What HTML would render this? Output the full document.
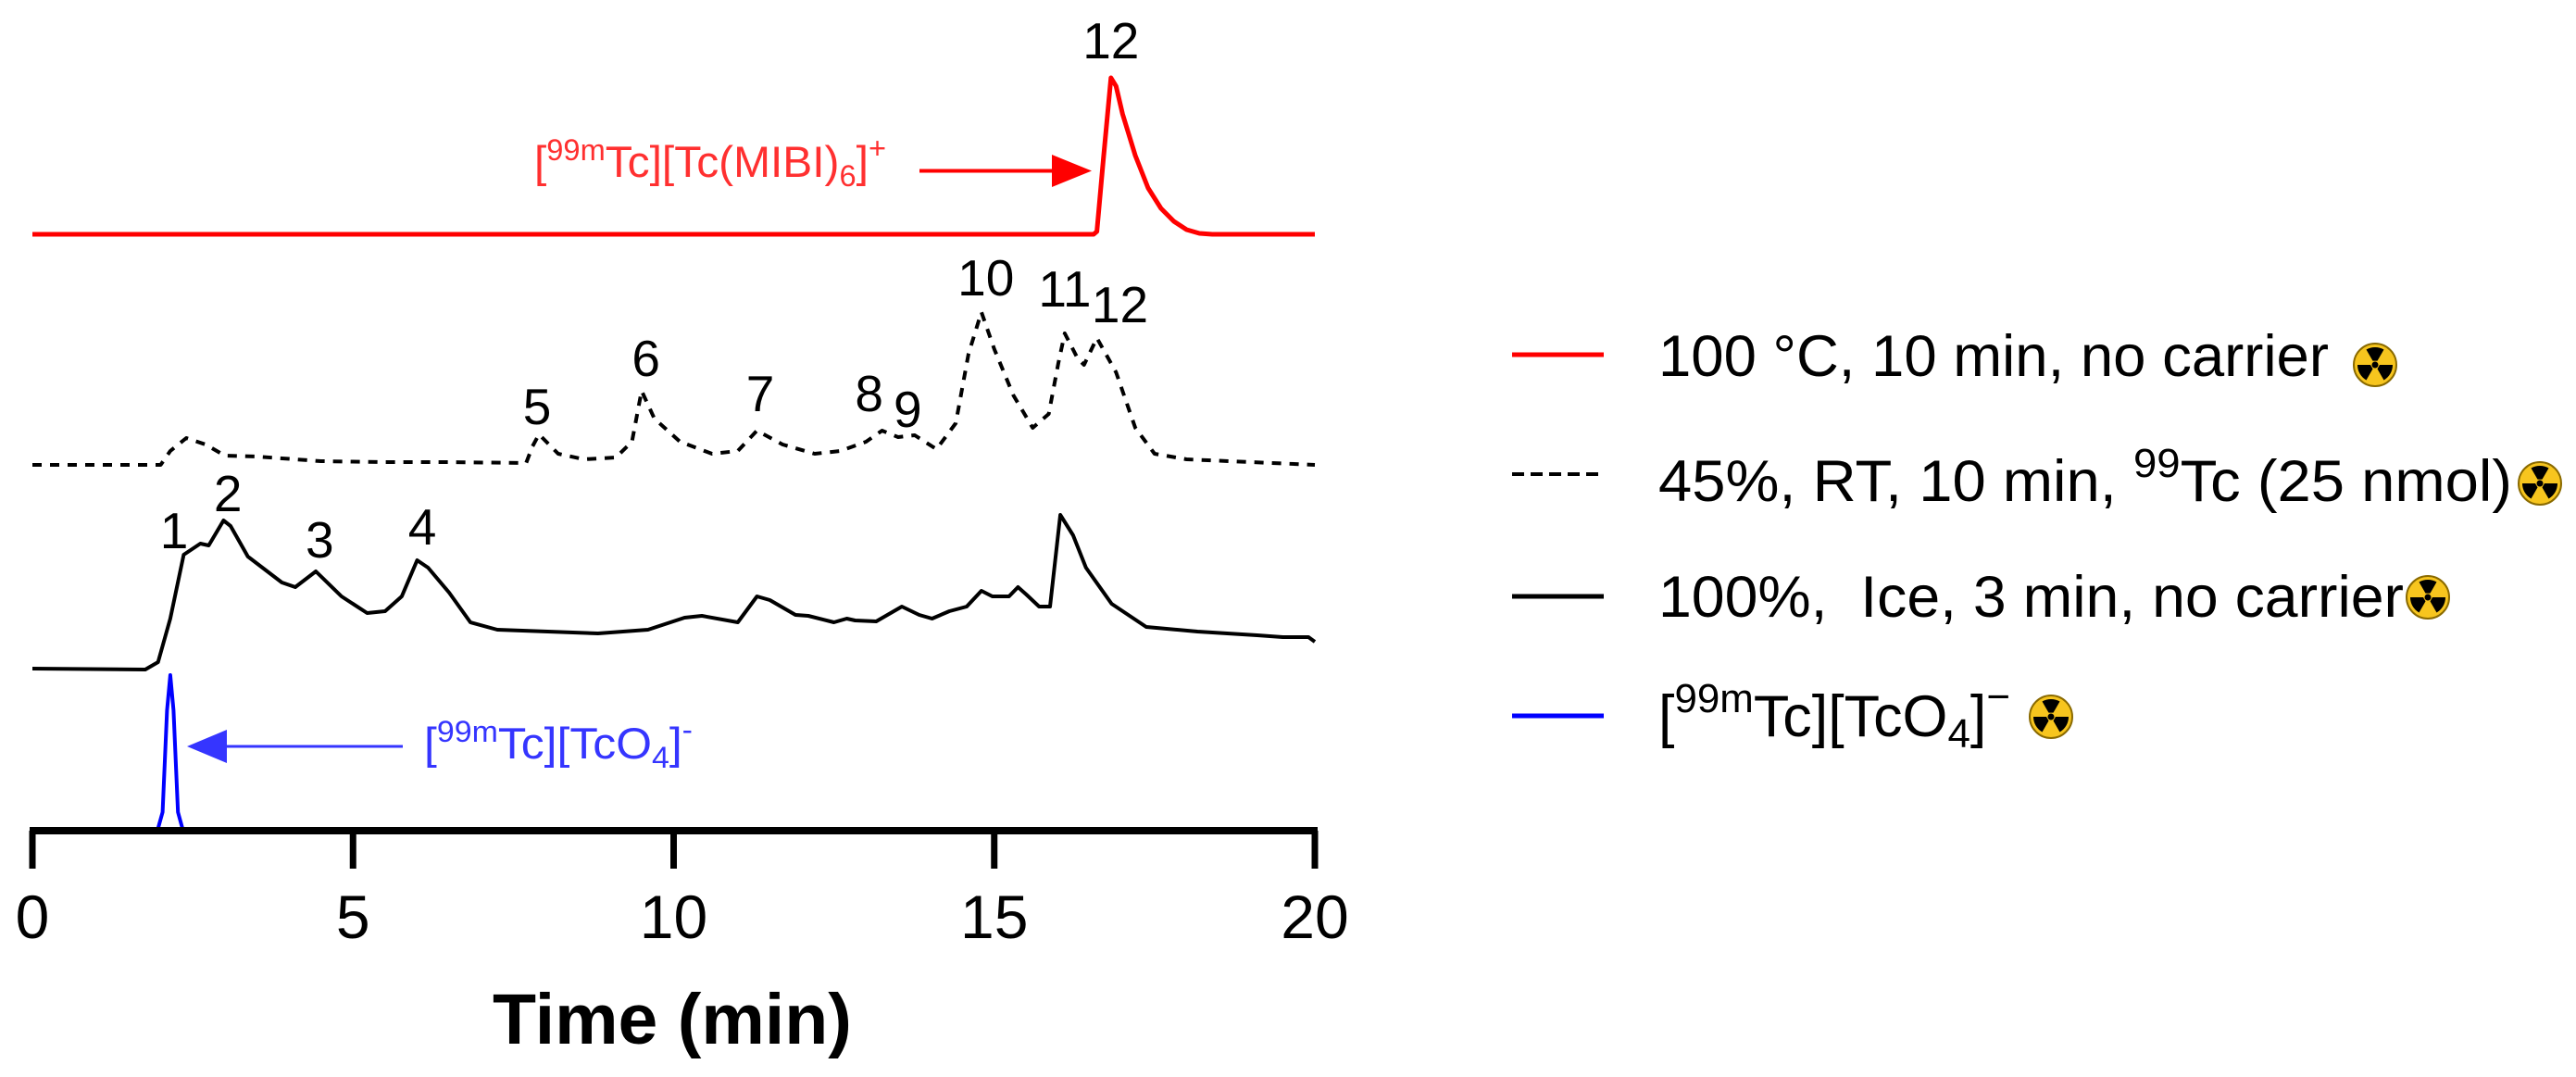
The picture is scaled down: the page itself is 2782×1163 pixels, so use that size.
<!DOCTYPE html>
<html><head><meta charset="utf-8"><style>
html,body{margin:0;padding:0;background:#fff;}
svg{display:block;font-family:"Liberation Sans",Arial,sans-serif;}
</style></head><body>
<svg id="chart" width="2782" height="1163" viewBox="0 0 2782 1163" xmlns="http://www.w3.org/2000/svg">
<g id="traces"></g>
<g id="axis"></g>
<g id="labels"></g>
<g>
<text x="577" y="191" fill="#ff3030" font-size="47" textLength="380" lengthAdjust="spacingAndGlyphs">[<tspan font-size="32" dy="-18">99m</tspan><tspan dy="18">Tc][Tc(MIBI)</tspan><tspan font-size="32" dy="10">6</tspan><tspan dy="-10">]</tspan><tspan font-size="32" dy="-20">+</tspan></text>
<line x1="993" y1="184.5" x2="1136" y2="184.5" stroke="#ff0000" stroke-width="4"/>
<polygon points="1136,167 1179,184.5 1136,202" fill="#ff0000"/>
</g>
<g>
<text x="458" y="819" fill="#3535ff" font-size="47" textLength="290" lengthAdjust="spacingAndGlyphs">[<tspan font-size="32" dy="-18">99m</tspan><tspan dy="18">Tc][TcO</tspan><tspan font-size="32" dy="10">4</tspan><tspan dy="-10">]</tspan><tspan font-size="32" dy="-20">-</tspan></text>
<line x1="435" y1="806" x2="245" y2="806" stroke="#3535ff" stroke-width="3"/>
<polygon points="245,788 202,806 245,824" fill="#3535ff"/>
</g>
<g id="legend">
<g>
<line x1="1633" y1="383" x2="1732" y2="383" stroke="#ff0000" stroke-width="5"/>
<text x="1791" y="406" font-size="63" textLength="724" lengthAdjust="spacingAndGlyphs">100 °C, 10 min, no carrier</text>
</g>
<g>
<line x1="1633" y1="512" x2="1732" y2="512" stroke="#000" stroke-width="4" stroke-dasharray="13,7"/>
<text x="1791" y="541" font-size="63" textLength="922" lengthAdjust="spacingAndGlyphs">45%, RT, 10 min, <tspan font-size="44" dy="-26">99</tspan><tspan dy="26">Tc (25 nmol)</tspan></text>
</g>
<g>
<line x1="1633" y1="644" x2="1732" y2="644" stroke="#000" stroke-width="5"/>
<text x="1791" y="666" font-size="63" textLength="805" lengthAdjust="spacingAndGlyphs" xml:space="preserve" style="white-space:pre">100%,  Ice, 3 min, no carrier</text>
</g>
<g>
<line x1="1633" y1="773" x2="1732" y2="773" stroke="#0000ff" stroke-width="5"/>
<text x="1791" y="795" font-size="63" textLength="380" lengthAdjust="spacingAndGlyphs">[<tspan font-size="44" dy="-26">99m</tspan><tspan dy="26">Tc][TcO</tspan><tspan font-size="44" dy="12">4</tspan><tspan dy="-12">]</tspan><tspan font-size="44" dy="-28">−</tspan></text>
</g>
</g>
<g id="icons"></g>
<text x="726" y="1127" font-size="77" font-weight="bold" text-anchor="middle">Time (min)</text>
</svg>
<script>
const NS = "http://www.w3.org/2000/svg";
const xTicks = [0, 5, 10, 15, 20];
const xTickLabels = ["0", "5", "10", "15", "20"];
const redTime = [0,16.55,16.6,16.7,16.82,16.9,17.0,17.2,17.4,17.6,17.8,18.0,18.2,18.4,20];
const redVal  = [0,0,3,80,169,160,130,85,50,28,14,5,1,0,0];
const dashTime = [0,2.0,2.15,2.4,2.7,3.0,3.5,4.5,5.5,6.5,7.7,7.8,7.9,8.2,8.6,9.1,9.35,9.5,9.7,10.1,10.6,11.0,11.3,11.7,12.2,12.6,13.0,13.25,13.5,13.76,14.1,14.4,14.6,14.8,15.0,15.3,15.6,15.85,16.0,16.1,16.3,16.4,16.6,16.9,17.2,17.5,18,19,20];
const dashVal  = [0,0,15,29,22,10,9,4,3,3,2,20,33,12,6,8,25,80,50,25,12,15,37,22,12,15,25,37,30,32,17,45,120,165,125,75,40,55,110,142,115,108,137,100,40,12,6,3,0];
const blackTime = [0,1.76,1.96,2.15,2.36,2.62,2.75,2.98,3.09,3.36,3.89,4.1,4.42,4.82,5.22,5.5,5.76,6.0,6.17,6.5,6.83,7.25,8.82,9.6,10.17,10.44,11.0,11.3,11.5,11.9,12.1,12.5,12.7,12.83,13.16,13.56,13.83,14.03,14.3,14.57,14.8,14.97,15.23,15.37,15.5,15.7,15.87,16.03,16.23,16.43,16.83,17.37,18.17,19.1,19.5,19.9,20];
const blackVal  = [1,0,8,55,124,136,134,161,155,122,94,89,106,79,61,63,79,118,110,83,51,43,39,43,56,58,51,79,75,59,58,51,55,53,52,68,59,55,63,68,85,79,79,89,81,68,68,167,145,110,71,46,41,37,35,35,30];
const blueTime = [0,1.95,2.03,2.1,2.15,2.2,2.27,2.35,20];
const blueVal  = [0,0,20,130,168,130,20,0,0];
const peakLabels = ["12","1","2","3","4","5","6","7","8","9","10","11","12"];
const peakLabelTime = [16.82,2.21,3.05,4.48,6.08,7.87,9.57,11.35,13.05,13.65,14.87,16.1,16.96];
const peakLabelTrace = ["red","black","black","black","black","dash","dash","dash","dash","dash","dash","dash","dash"];
const peakLabelVal = [190,131,171,121,135,44,96,58,58,41,183,171,154];

const X0 = 35, PX = 69.25;
function xs(t){ return X0 + t*PX; }
const base = {red:253, dash:502, black:723, blue:897};
function ys(trace, v){ return base[trace] - v; }
function pathFor(trace, ts, vs){
  let d = "";
  for (let i=0;i<ts.length;i++){ d += (i?"L":"M") + xs(ts[i]).toFixed(1) + "," + ys(trace, vs[i]).toFixed(1); }
  return d;
}
const tg = document.getElementById("traces");
function addTrace(name, trace, ts, vs, color, w, dash){
  const p = document.createElementNS(NS,"path");
  
  
  p.setAttribute("d", pathFor(trace, ts, vs));
  p.setAttribute("fill","none");
  p.setAttribute("stroke",color);
  p.setAttribute("stroke-width",w);
  p.setAttribute("stroke-linejoin","round");
  if (dash) p.setAttribute("stroke-dasharray",dash);
  tg.appendChild(p);
}
addTrace("trace-100c-no-carrier","red",redTime,redVal,"#ff0000",5,null);
addTrace("trace-45-rt-tc99","dash",dashTime,dashVal,"#000",4,"10,9");
addTrace("trace-100-ice-no-carrier","black",blackTime,blackVal,"#000",4,null);

const ag = document.getElementById("axis");
const axl = document.createElementNS(NS,"line");


axl.setAttribute("x1", xs(0)-3); axl.setAttribute("x2", xs(20)+3);
axl.setAttribute("y1", 897); axl.setAttribute("y2", 897);
axl.setAttribute("stroke","#000"); axl.setAttribute("stroke-width",8);
ag.appendChild(axl);
xTicks.forEach((t,i)=>{
  const l = document.createElementNS(NS,"line");
  
  
  l.setAttribute("x1", xs(t)); l.setAttribute("x2", xs(t));
  l.setAttribute("y1", 897); l.setAttribute("y2", 938);
  l.setAttribute("stroke","#000"); l.setAttribute("stroke-width",7);
  ag.appendChild(l);
  const tx = document.createElementNS(NS,"text");
  
  
  tx.setAttribute("x", xs(t)); tx.setAttribute("y", 1013);
  tx.setAttribute("font-size", 66); tx.setAttribute("text-anchor","middle");
  tx.textContent = xTickLabels[i];
  ag.appendChild(tx);
});
addTrace("trace-pertechnetate","blue",blueTime,blueVal,"#0000ff",4,null);
const bl = document.createElementNS(NS,"line");


bl.setAttribute("x1", xs(0)); bl.setAttribute("x2", xs(20));
bl.setAttribute("y1", 897); bl.setAttribute("y2", 897);
bl.setAttribute("stroke","#0000ff"); bl.setAttribute("stroke-width",4);
tg.appendChild(bl);

const lg = document.getElementById("labels");
peakLabels.forEach((s,i)=>{
  const tx = document.createElementNS(NS,"text");
  
  
  tx.setAttribute("x", xs(peakLabelTime[i]));
  tx.setAttribute("y", ys(peakLabelTrace[i], peakLabelVal[i]));
  tx.setAttribute("font-size", 55); tx.setAttribute("text-anchor","middle");
  tx.textContent = s;
  lg.appendChild(tx);
});

const ig = document.getElementById("icons");
const iconPos = [[2565,394],[2743,522],[2622,645],[2215,774]];
iconPos.forEach(([cx,cy])=>{
  const g = document.createElementNS(NS,"g");
  
  
  let html = `<circle cx="${cx}" cy="${cy}" r="23" fill="#f7c51e" stroke="#8a6a00" stroke-width="2"/>`;
  [ -90, 30, 150 ].forEach(a=>{
    const r1=5, r2=19, a1=(a-30)*Math.PI/180, a2=(a+30)*Math.PI/180;
    html += `<path d="M${cx+r1*Math.cos(a1)},${cy+r1*Math.sin(a1)} L${cx+r2*Math.cos(a1)},${cy+r2*Math.sin(a1)} A${r2},${r2} 0 0 1 ${cx+r2*Math.cos(a2)},${cy+r2*Math.sin(a2)} L${cx+r1*Math.cos(a2)},${cy+r1*Math.sin(a2)} Z" fill="#000"/>`;
  });
  html += `<circle cx="${cx}" cy="${cy}" r="3.5" fill="#000"/>`;
  g.innerHTML = html;
  ig.appendChild(g);
});
</script>
</body></html>
